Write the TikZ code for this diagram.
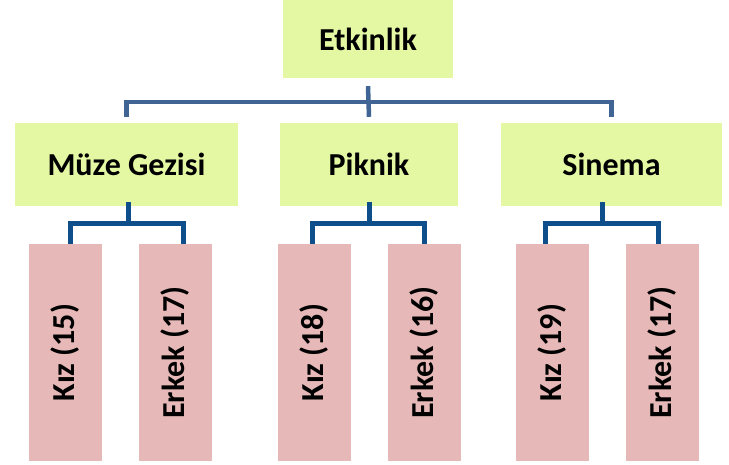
\documentclass[tikz,border=0pt]{standalone}
\usepackage{fontspec}
\setmainfont{Carlito}
\definecolor{acikyesil}{RGB}{228,248,164}
\definecolor{pembe}{RGB}{230,184,183}
\definecolor{ustmavi}{RGB}{64,100,148}
\definecolor{altmavi}{RGB}{14,78,138}
\begin{document}
\begin{tikzpicture}[x=1pt,y=-1pt]
    \tikzstyle{yesil}=[fill=acikyesil,inner sep=0pt,minimum height=83pt,font=\fontsize{32}{38}\selectfont\bfseries]
    \tikzstyle{cocuk}=[fill=pembe,inner sep=0pt,minimum width=73pt,minimum height=217pt,font=\fontsize{32}{38}\selectfont\bfseries]
    \tikzstyle{ustkol}=[ustmavi,line width=4.5pt]
    \tikzstyle{altkol}=[altmavi,line width=5pt]
  \useasboundingbox (0,0) rectangle (729,465);
  \node[yesil,minimum width=170pt,minimum height=78pt] (etk) at (368,39) {Etkinlik};
  \node[yesil,minimum width=223pt] (muze) at (126.5,164.5) {Müze Gezisi};
  \node[yesil,minimum width=178pt] (piknik) at (369,164.5) {Piknik};
  \node[yesil,minimum width=221pt] (sinema) at (611.5,164.5) {Sinema};
  \node[cocuk] (kiz1) at (65.5,352.5) {\rotatebox{90}{Kız (15)}};
  \node[cocuk] (erk1) at (175.5,352.5) {\rotatebox{90}{Erkek (17)}};
  \node[cocuk] (kiz2) at (314.5,352.5) {\rotatebox{90}{Kız (18)}};
  \node[cocuk] (erk2) at (424.5,352.5) {\rotatebox{90}{Erkek (16)}};
  \node[cocuk] (kiz3) at (552.5,352.5) {\rotatebox{90}{Kız (19)}};
  \node[cocuk] (erk3) at (662.5,352.5) {\rotatebox{90}{Erkek (17)}};
  % ust baglanti
  \draw[ustkol] ([yshift=-8pt]etk.south) -- ([yshift=6pt]piknik.north);
  \draw[ustkol] ([yshift=6pt]muze.north) |- ([yshift=21pt]sinema.north) -- ([yshift=6pt]sinema.north);
  % alt baglantilar
  \draw[altkol] ([xshift=1.5pt,yshift=4pt]muze.south) -- ([xshift=1.5pt,yshift=-17pt]muze.south);
  \draw[altkol] ([xshift=4.5pt]kiz1.north) |- ([yshift=-17pt]muze.south) -| ([xshift=7.5pt]erk1.north);
  \draw[altkol] ([yshift=4pt]piknik.south) -- ([yshift=-17pt]piknik.south);
  \draw[altkol] ([xshift=-2.5pt]kiz2.north) |- ([yshift=-17pt]piknik.south) -| (erk2.north);
  \draw[altkol] ([xshift=-9.5pt,yshift=4pt]sinema.south) -- ([xshift=-9.5pt,yshift=-17pt]sinema.south);
  \draw[altkol] ([xshift=-7.5pt]kiz3.north) |- ([xshift=-9.5pt,yshift=-17pt]sinema.south) -| ([xshift=-4.5pt]erk3.north);
\end{tikzpicture}
\end{document}
